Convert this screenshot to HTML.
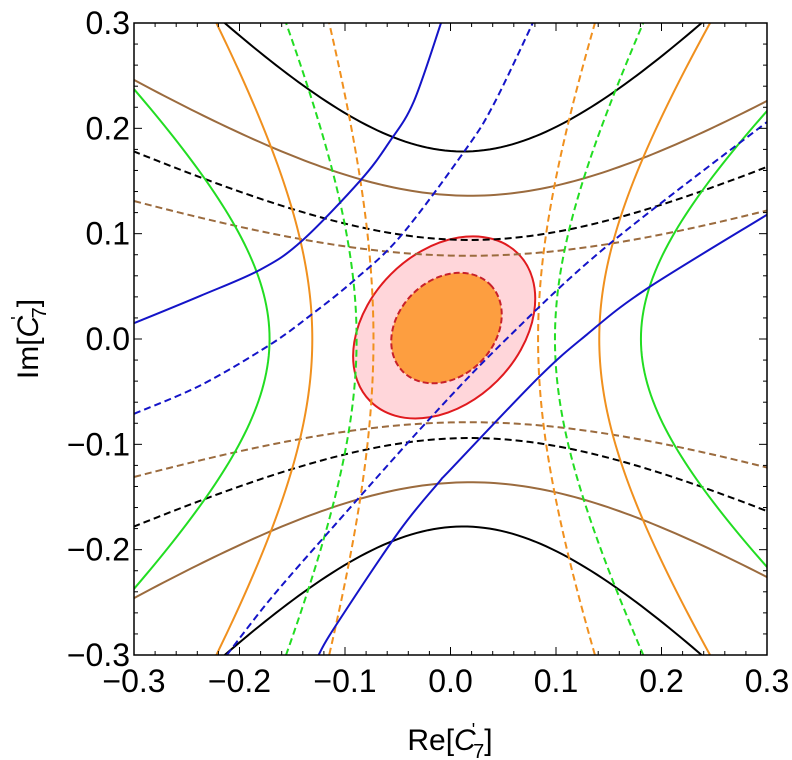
<!DOCTYPE html>
<html><head><meta charset="utf-8"><style>
html,body{margin:0;padding:0;background:#fff;}
svg{display:block;font-family:"Liberation Sans",sans-serif;}
</style></head><body>
<svg id="chart" width="792" height="760" xmlns="http://www.w3.org/2000/svg">
<defs><clipPath id="clip"><rect x="134" y="23" width="633" height="632"/></clipPath></defs>
<g id="plot" clip-path="url(#clip)"></g>
<rect x="134" y="23" width="633" height="632" fill="none" stroke="#000" stroke-width="1.5"/>
<g id="ticks"></g>
<text x="450" y="750" text-anchor="middle" font-size="30">Re[<tspan font-style="italic">C</tspan><tspan font-size="18" dy="-14" dx="-4">'</tspan><tspan font-size="20" dy="22" dx="-2">7</tspan><tspan dy="-8">]</tspan></text>
<text transform="translate(38,339) rotate(-90)" text-anchor="middle" font-size="30">Im[<tspan font-style="italic">C</tspan><tspan font-size="18" dy="-14" dx="-4">'</tspan><tspan font-size="20" dy="22" dx="-2">7</tspan><tspan dy="-8">]</tspan></text>
</svg>
<script>
const xTicks = [-0.3,-0.2,-0.1,0.0,0.1,0.2,0.3];
const yTicks = [-0.3,-0.2,-0.1,0.0,0.1,0.2,0.3];
const tickLabels = ["\u22120.3","\u22120.2","\u22120.1","0.0","0.1","0.2","0.3"];
// horizontal hyperbolas y = ±a*sqrt(1+((x-c)/b)^2)
const hNames = ["black-solid","black-dashed","brown-solid","brown-dashed"];
const hA = [0.178,0.094,0.136,0.079];
const hB = [0.1666,0.198,0.2117,0.24];
const hC = [0.012,0.0185,0.019,0.0175];
const hColor = ["#000000","#000000","#9b6b3e","#9b6b3e"];
const hDash = [false,true,false,true];
// vertical hyperbolas x = c ± a*sqrt(1+(y/b)^2)
const vNames = ["green-solid","green-dashed","orange-solid","orange-dashed"];
const vC = [0.0045,0.005,0.005,0.005];
const vA = [0.176,0.094,0.136,0.078];
const vBL = [0.168,0.216,0.2246,0.2566];
const vBR = [0.1605,0.187,0.205,0.22];
const vColor = ["#22dd22","#22dd22","#f0901e","#f0901e"];
const vDash = [false,true,false,true];
// blue curves
const blueSolidUpperX = [-0.3,-0.237,-0.18,-0.141,-0.085,-0.058,-0.035,-0.009];
const blueSolidUpperY = [0.015,0.041,0.066,0.093,0.151,0.187,0.225,0.3];
const blueSolidLowerX = [-0.125,-0.110,-0.049,-0.011,0.0,0.083,0.129,0.185,0.3];
const blueSolidLowerY = [-0.3,-0.274,-0.183,-0.136,-0.124,-0.037,0.004,0.047,0.118];
const blueDashUpperX = [-0.3,-0.237,-0.172,-0.132,-0.091,-0.047,0.013,0.04,0.078];
const blueDashUpperY = [-0.071,-0.044,-0.006,0.023,0.056,0.098,0.178,0.221,0.3];
const blueDashLowerX = [-0.212,-0.170,-0.110,-0.020,0.053,0.148,0.3];
const blueDashLowerY = [-0.3,-0.246,-0.177,-0.076,0.0,0.088,0.206];
// ellipses: center x, center y, semi-major, semi-minor, angle deg
const ellOuter = [-0.006,0.011,0.099,0.0715,45];
const ellInner = [-0.0038,0.0104,0.0584,0.0456,45];

const X0=134,X1=767,Y0=23,Y1=655;
function sx(v){return X0+(v+0.3)/0.6*(X1-X0);}
function sy(v){return Y1-(v+0.3)/0.6*(Y1-Y0);}
const NS="http://www.w3.org/2000/svg";
const plot=document.getElementById('plot');
const ticks=document.getElementById('ticks');
const svg=document.getElementById('chart');
function mk(tag,attrs,parent){const e=document.createElementNS(NS,tag);for(const k in attrs)e.setAttribute(k,attrs[k]);parent.appendChild(e);return e;}

function ellipse(p,fill,stroke,dash,name){
  const e=mk('ellipse',{cx:sx(p[0]),cy:sy(p[1]),rx:p[2]/0.6*(X1-X0),ry:p[3]/0.6*(Y1-Y0),
    transform:`rotate(${-p[4]} ${sx(p[0])} ${sy(p[1])})`,fill:fill,stroke:stroke,'stroke-width':2},plot);
  if(dash)e.setAttribute('stroke-dasharray','6,3');
  
  
}
ellipse(ellOuter,"#ffd6da","#e01a1e",false,'outer-confidence-ellipse');
ellipse(ellInner,"#fd9e40","#c8202a",true,'inner-confidence-ellipse');

function pathFrom(pts,color,dash,name){
  let d='';pts.forEach((p,i)=>{d+=(i?'L':'M')+p[0].toFixed(2)+','+p[1].toFixed(2);});
  const e=mk('path',{d:d,fill:'none',stroke:color,'stroke-width':2},plot);
  if(dash)e.setAttribute('stroke-dasharray','7,4');
  
  
}
for(let i=0;i<hNames.length;i++){
  for(const s of [1,-1]){
    const pts=[];
    for(let k=0;k<=120;k++){const x=-0.32+0.64*k/120;const y=s*hA[i]*Math.sqrt(1+((x-hC[i])/hB[i])**2);pts.push([sx(x),sy(y)]);}
    pathFrom(pts,hColor[i],hDash[i],hNames[i]+(s>0?'-upper':'-lower'));
  }
}
for(let i=0;i<vNames.length;i++){
  for(const s of [1,-1]){
    const b=s>0?vBR[i]:vBL[i];const pts=[];
    for(let k=0;k<=120;k++){const y=-0.32+0.64*k/120;const x=vC[i]+s*vA[i]*Math.sqrt(1+(y/b)**2);pts.push([sx(x),sy(y)]);}
    pathFrom(pts,vColor[i],vDash[i],vNames[i]+(s>0?'-right':'-left'));
  }
}
function smooth(xs,ys,color,dash,name){
  const P=xs.map((x,i)=>[sx(x),sy(ys[i])]);
  let d='M'+P[0][0]+','+P[0][1];
  for(let i=0;i<P.length-1;i++){
    const p0=P[Math.max(i-1,0)],p1=P[i],p2=P[i+1],p3=P[Math.min(i+2,P.length-1)];
    const c1=[p1[0]+(p2[0]-p0[0])/6,p1[1]+(p2[1]-p0[1])/6];
    const c2=[p2[0]-(p3[0]-p1[0])/6,p2[1]-(p3[1]-p1[1])/6];
    d+=`C${c1[0].toFixed(2)},${c1[1].toFixed(2)} ${c2[0].toFixed(2)},${c2[1].toFixed(2)} ${p2[0].toFixed(2)},${p2[1].toFixed(2)}`;
  }
  const e=mk('path',{d:d,fill:'none',stroke:color,'stroke-width':2},plot);
  if(dash)e.setAttribute('stroke-dasharray','7,4');
  
  
}
smooth(blueSolidUpperX,blueSolidUpperY,"#1414c8",false,'blue-solid-upper');
smooth(blueSolidLowerX,blueSolidLowerY,"#1414c8",false,'blue-solid-lower');
smooth(blueDashUpperX,blueDashUpperY,"#1414c8",true,'blue-dashed-upper');
smooth(blueDashLowerX,blueDashLowerY,"#1414c8",true,'blue-dashed-lower');

// ticks
for(let k=0;k<=30;k++){
  const v=-0.3+k*0.02;const major=(k%5===0);const L=major?8:4;
  const px=sx(v),py=sy(v);
  mk('line',{x1:px,y1:Y1,x2:px,y2:Y1-L,stroke:'#000','stroke-width':1},ticks);
  mk('line',{x1:px,y1:Y0,x2:px,y2:Y0+L,stroke:'#000','stroke-width':1},ticks);
  mk('line',{x1:X0,y1:py,x2:X0+L,y2:py,stroke:'#000','stroke-width':1},ticks);
  mk('line',{x1:X1,y1:py,x2:X1-L,y2:py,stroke:'#000','stroke-width':1},ticks);
}
xTicks.forEach((v,i)=>{
  const t=mk('text',{x:sx(v),y:692,'text-anchor':'middle','font-size':32},svg);
  t.textContent=tickLabels[i];
  
  
});
yTicks.forEach((v,i)=>{
  const t=mk('text',{x:130,y:sy(v)+11,'text-anchor':'end','font-size':32},svg);
  t.textContent=tickLabels[i];
  
  
});
</script>
</body></html>
